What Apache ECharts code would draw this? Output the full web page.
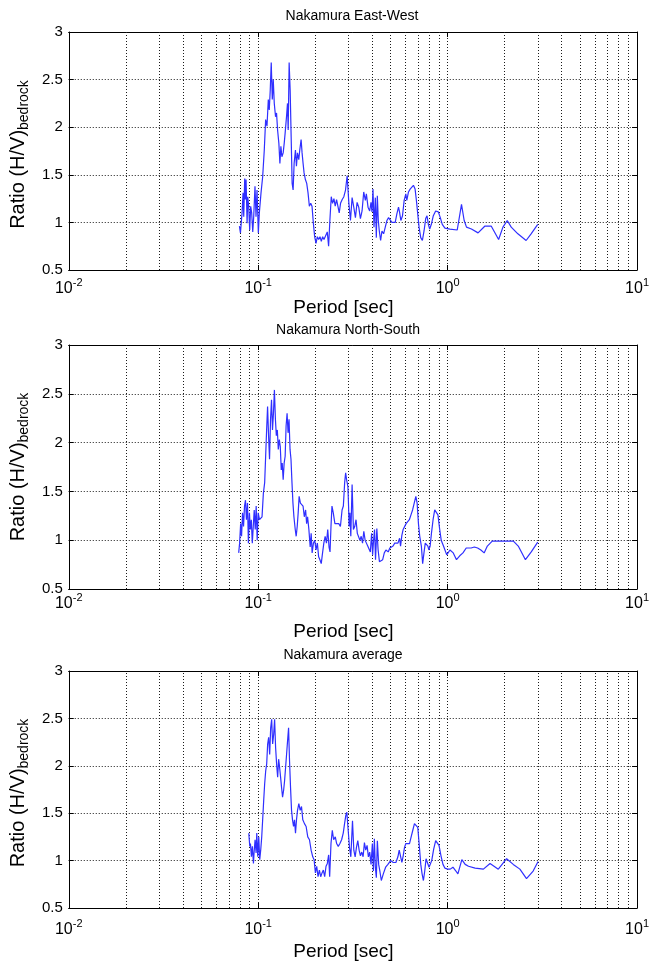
<!DOCTYPE html>
<html><head><meta charset="utf-8">
<script src="https://cdn.jsdelivr.net/npm/echarts@6/dist/echarts.min.js"></script>
<style>html,body{margin:0;padding:0;background:#fff}#chart{width:652px;height:962px}</style>
</head><body><div id="chart"></div>
<script>
const panelTitles = ['Nakamura East-West', 'Nakamura North-South', 'Nakamura average'];
const xAxisName = 'Period [sec]';
const yAxisNameMain = 'Ratio (H/V)';
const yAxisNameSub = 'bedrock';
const xRange = [0.01, 10];
const yRange = [0.5, 3];
const yStep = 0.5;
const minorPeriods = [0.02,0.03,0.04,0.05,0.06,0.07,0.08,0.09,0.2,0.3,0.4,0.5,0.6,0.7,0.8,0.9,2,3,4,5,6,7,8,9];

// [period (s), ratio]
const ewPoints = [
[0.0796,0.96],[0.0806,0.89],[0.0822,1.10],[0.0832,1.31],[0.0839,1.06],[0.0849,1.46],[0.0856,1.24],[0.0863,1.45],[0.0874,0.99],[0.0881,1.27],
[0.0891,1.17],[0.0902,0.92],[0.0913,1.17],[0.0924,1.10],[0.0936,0.90],[0.0947,1.06],[0.0962,1.38],[0.0974,1.06],[0.0986,1.34],[0.1002,0.89],
[0.1014,1.10],[0.1035,1.31],[0.1056,1.48],[0.1077,1.76],[0.1095,2.08],[0.1113,2.01],[0.1131,2.29],[0.1144,2.18],[0.1158,2.39],[0.1172,2.68],
[0.1187,2.29],[0.1201,2.50],[0.1216,2.25],[0.1235,2.11],[0.1250,2.15],[0.1266,1.97],[0.1286,1.83],[0.1302,1.62],[0.1318,1.80],[0.1334,1.69],
[0.1355,1.73],[0.1372,1.83],[0.1388,1.94],[0.1411,2.11],[0.1428,2.25],[0.1440,1.97],[0.1457,2.68],[0.1475,2.39],[0.1493,1.90],[0.1511,1.41],
[0.1529,1.34],[0.1548,1.62],[0.1573,1.76],[0.1592,1.59],[0.1612,1.73],[0.1638,1.66],[0.1658,1.76],[0.1685,1.87],[0.1705,1.73],[0.1726,1.62],
[0.1747,1.52],[0.1775,1.45],[0.1804,1.41],[0.1833,1.31],[0.1863,1.17],[0.1894,1.20],[0.1924,1.17],[0.1956,0.99],[0.1987,0.85],[0.2020,0.78],
[0.2052,0.85],[0.2086,0.82],[0.2120,0.85],[0.2154,0.80],[0.2189,0.85],[0.2225,0.82],[0.2270,0.84],[0.2316,0.90],[0.2354,0.75],[0.2392,1.03],
[0.2431,1.27],[0.2470,1.20],[0.2511,1.25],[0.2551,1.17],[0.2593,1.24],[0.2635,1.17],[0.2678,1.10],[0.2721,1.20],[0.2777,1.24],[0.2833,1.27],
[0.2891,1.34],[0.2949,1.49],[0.3009,1.21],[0.3070,1.02],[0.3132,1.26],[0.3196,1.16],[0.3261,1.05],[0.3328,1.21],[0.3395,1.16],[0.3465,1.04],
[0.3535,1.12],[0.3607,1.32],[0.3680,1.23],[0.3725,1.30],[0.3801,1.16],[0.3878,1.12],[0.3941,1.21],[0.3989,1.11],[0.4038,1.35],[0.4087,0.95],
[0.4153,1.26],[0.4204,0.84],[0.4255,1.28],[0.4306,1.02],[0.4359,0.91],[0.4430,0.81],[0.4502,0.91],[0.4593,0.88],[0.4687,0.95],[0.4782,1.02],
[0.4879,1.05],[0.4979,1.07],[0.5080,1.00],[0.5184,0.98],[0.5289,1.00],[0.5397,1.09],[0.5506,1.16],[0.5573,1.11],[0.5664,1.02],[0.5779,1.07],
[0.5896,1.23],[0.6017,1.30],[0.6090,1.23],[0.6214,1.32],[0.6340,1.35],[0.6469,1.37],[0.6600,1.39],[0.6735,1.35],[0.6844,1.23],[0.6955,1.09],
[0.7068,0.95],[0.7213,0.84],[0.7359,0.81],[0.7509,0.91],[0.7662,1.04],[0.7786,1.07],[0.7913,0.98],[0.8042,0.93],[0.8205,0.98],[0.8406,1.07],
[0.8647,1.12],[0.8930,1.11],[0.9148,1.05],[0.9372,0.98],[0.9679,0.94],[1.028,0.93],[1.124,0.92],[1.184,1.19],[1.223,1.02],[1.258,0.95],
[1.336,0.93],[1.448,0.89],[1.570,0.96],[1.701,0.96],[1.859,0.82],[1.959,0.95],[2.064,1.02],[2.167,0.95],[2.349,0.88],[2.597,0.81],
[2.759,0.88],[2.991,0.98]
];

const nsPoints = [
[0.0789,0.87],[0.0798,0.97],[0.0808,1.17],[0.0817,1.04],[0.0827,1.28],[0.0837,1.14],[0.0847,1.35],[0.0857,1.41],[0.0867,1.21],[0.0878,1.38],
[0.0888,0.97],[0.0899,1.28],[0.0909,1.11],[0.0920,1.21],[0.0931,0.97],[0.0942,1.14],[0.0953,1.31],[0.0965,1.11],[0.0976,1.35],[0.0988,1.00],
[0.1000,1.28],[0.1016,1.21],[0.1032,1.23],[0.1048,1.24],[0.1065,1.48],[0.1082,1.59],[0.1095,1.86],[0.1108,2.13],[0.1121,2.37],[0.1135,2.06],
[0.1148,1.83],[0.1162,2.24],[0.1176,2.44],[0.1190,2.13],[0.1204,2.30],[0.1218,2.54],[0.1233,2.24],[0.1247,2.07],[0.1262,2.13],[0.1277,1.93],
[0.1293,2.03],[0.1308,1.96],[0.1324,1.72],[0.1339,1.79],[0.1355,1.62],[0.1371,1.79],[0.1388,1.86],[0.1404,2.17],[0.1421,2.30],[0.1438,2.10],
[0.1455,2.24],[0.1473,1.93],[0.1490,1.83],[0.1508,1.59],[0.1526,1.38],[0.1544,1.24],[0.1569,1.11],[0.1587,1.04],[0.1607,1.14],[0.1626,1.28],
[0.1645,1.45],[0.1671,1.38],[0.1698,1.40],[0.1725,1.35],[0.1752,1.24],[0.1780,1.31],[0.1802,1.17],[0.1823,1.24],[0.1852,1.11],[0.1882,0.93],
[0.1904,1.07],[0.1927,0.87],[0.1957,0.97],[0.1989,1.00],[0.2020,0.90],[0.2053,0.97],[0.2085,0.83],[0.2118,0.80],[0.2152,0.76],[0.2187,0.87],
[0.2221,0.97],[0.2257,1.04],[0.2293,0.97],[0.2329,1.11],[0.2366,0.93],[0.2395,0.88],[0.2423,1.14],[0.2452,1.35],[0.2491,1.28],[0.2541,1.17],
[0.2602,1.16],[0.2664,1.17],[0.2717,1.14],[0.2772,1.31],[0.2816,1.35],[0.2861,1.59],[0.2895,1.69],[0.2929,1.62],[0.2976,1.55],[0.3000,1.35],
[0.3020,1.14],[0.3050,1.28],[0.3083,1.04],[0.3132,1.57],[0.3182,1.11],[0.3233,1.14],[0.3285,1.21],[0.3337,1.07],[0.3390,1.09],[0.3444,1.00],
[0.3499,1.04],[0.3555,0.97],[0.3611,1.09],[0.3669,1.00],[0.3727,0.97],[0.3787,0.94],[0.3847,0.92],[0.3909,0.88],[0.3971,1.07],[0.4018,0.85],
[0.4066,1.00],[0.4114,1.11],[0.4164,0.80],[0.4230,1.12],[0.4297,0.90],[0.4366,0.78],[0.4453,0.76],[0.4542,0.80],[0.4632,0.87],[0.4725,0.90],
[0.4857,0.88],[0.4954,0.92],[0.5053,0.94],[0.5154,0.94],[0.5257,0.97],[0.5361,0.99],[0.5469,0.97],[0.5578,1.02],[0.5644,0.94],[0.5734,1.05],
[0.5825,1.11],[0.5919,1.09],[0.6037,1.17],[0.6157,1.16],[0.6280,1.21],[0.6406,1.26],[0.6533,1.31],[0.6664,1.38],[0.6796,1.45],[0.6904,1.38],
[0.7015,1.17],[0.7127,1.04],[0.7269,0.94],[0.7384,0.76],[0.7502,0.87],[0.7622,0.97],[0.7744,0.95],[0.7867,0.94],[0.7960,0.90],[0.8087,0.94],
[0.8216,1.07],[0.8380,1.21],[0.8548,1.31],[0.8718,1.33],[0.8892,1.26],[0.9069,1.12],[0.9250,1.00],[0.9510,0.94],[0.9893,0.85],[1.029,0.90],
[1.071,0.87],[1.114,0.80],[1.159,0.84],[1.205,0.87],[1.254,0.92],[1.331,0.92],[1.384,0.93],[1.440,0.92],[1.498,0.90],[1.559,0.87],
[1.621,0.94],[1.720,0.99],[1.862,0.99],[2.015,0.99],[2.224,0.99],[2.360,0.94],[2.575,0.80],[2.764,0.88],[2.991,0.98]
];

const avgPoints = [
[0.0892,1.29],[0.0903,1.15],[0.0910,1.18],[0.0921,1.04],[0.0932,1.15],[0.0944,0.97],[0.0951,1.08],[0.0963,1.22],[0.0975,1.08],[0.0983,1.29],
[0.0995,1.04],[0.1007,1.25],[0.1019,1.01],[0.1031,1.11],[0.1044,1.25],[0.1056,1.43],[0.1069,1.63],[0.1082,1.81],[0.1096,1.95],[0.1109,2.02],
[0.1122,2.23],[0.1136,2.30],[0.1150,2.12],[0.1164,2.40],[0.1178,2.49],[0.1192,2.23],[0.1207,2.33],[0.1221,2.49],[0.1236,2.19],[0.1251,2.02],
[0.1267,1.88],[0.1282,2.07],[0.1298,1.98],[0.1313,1.88],[0.1329,1.77],[0.1345,1.67],[0.1362,1.74],[0.1378,1.84],[0.1395,1.98],[0.1412,2.12],
[0.1429,2.26],[0.1447,2.40],[0.1464,2.05],[0.1482,1.77],[0.1500,1.53],[0.1518,1.43],[0.1537,1.36],[0.1555,1.43],[0.1574,1.29],[0.1593,1.43],
[0.1613,1.53],[0.1639,1.60],[0.1666,1.53],[0.1693,1.57],[0.1720,1.43],[0.1755,1.39],[0.1791,1.36],[0.1827,1.25],[0.1865,1.22],[0.1903,1.11],
[0.1941,1.04],[0.1973,1.01],[0.2005,0.87],[0.2037,0.94],[0.2070,0.83],[0.2104,0.90],[0.2138,0.83],[0.2173,0.87],[0.2208,0.90],[0.2244,0.83],
[0.2281,0.94],[0.2318,0.97],[0.2355,1.06],[0.2384,0.83],[0.2423,1.18],[0.2462,1.32],[0.2502,1.22],[0.2553,1.25],[0.2595,1.18],[0.2647,1.15],
[0.2701,1.18],[0.2757,1.22],[0.2812,1.29],[0.2858,1.39],[0.2903,1.48],[0.2938,1.51],[0.2986,1.32],[0.3034,1.14],[0.3084,1.04],[0.3147,1.42],
[0.3198,1.11],[0.3250,1.04],[0.3302,1.14],[0.3356,1.21],[0.3411,1.11],[0.3466,1.05],[0.3522,1.09],[0.3580,1.04],[0.3638,1.19],[0.3697,1.11],
[0.3757,1.16],[0.3818,1.04],[0.3880,1.09],[0.3943,0.96],[0.4007,1.18],[0.4056,0.89],[0.4105,1.23],[0.4155,0.93],[0.4205,0.82],[0.4257,1.21],
[0.4326,0.96],[0.4396,0.88],[0.4467,0.79],[0.4577,0.86],[0.4707,0.93],[0.4842,0.96],[0.5001,1.00],[0.5165,0.98],[0.5334,0.98],[0.5465,1.04],
[0.5553,1.11],[0.5643,1.09],[0.5735,0.98],[0.5828,1.05],[0.5923,1.14],[0.6019,1.18],[0.6167,1.19],[0.6292,1.18],[0.6420,1.25],[0.6550,1.32],
[0.6684,1.39],[0.6847,1.39],[0.6958,1.35],[0.7072,1.18],[0.7216,0.96],[0.7333,0.86],[0.7452,0.79],[0.7573,0.89],[0.7696,1.02],[0.7821,0.98],
[0.7980,0.93],[0.8110,0.91],[0.8242,1.00],[0.8443,1.12],[0.8650,1.21],[0.8826,1.23],[0.9006,1.16],[0.9226,1.05],[0.9452,0.96],[0.9683,0.92],
[1.000,0.91],[1.033,0.91],[1.067,0.93],[1.106,0.89],[1.133,0.86],[1.189,1.01],[1.238,0.96],[1.289,0.94],[1.397,0.92],[1.545,0.91],
[1.675,0.97],[1.852,0.91],[2.049,1.02],[2.221,0.96],[2.407,0.91],[2.609,0.81],[2.828,0.89],[3.004,0.99]
];

const seriesPoints = [ewPoints, nsPoints, avgPoints];

const FONT = '"Liberation Sans", Arial, Helvetica, sans-serif';
const layout = [
  {left: 66.7, top: 32, width: 571.6, height: 238, titleX: 352, titleTop: 9, xLabelMargin: 7, xNameGap: 28, yNamePad: [0, 7, 0, 0]},
  {left: 62.5, top: 345, width: 582.5, height: 244, titleX: 348, titleTop: 323, xLabelMargin: 3, xNameGap: 33, yNamePad: [0, 0, 0, 0]},
  {left: 68, top: 671, width: 571.6, height: 237.3, titleX: 343, titleTop: 648, xLabelMargin: 10, xNameGap: 34, yNamePad: [0, 7, 0, 0]}
];

const gridDots = {color: '#1a1a1a', width: 1, type: [1, 2]};
const black = {color: '#000', width: 1};

const option = {
  animation: false,
  backgroundColor: '#fff',
  title: [], grid: [], xAxis: [], yAxis: [], series: []
};

layout.forEach((L, i) => {
  option.title.push({
    text: panelTitles[i], left: L.titleX, top: L.titleTop, textAlign: 'center', padding: 0,
    textStyle: {fontFamily: FONT, fontSize: 14, fontWeight: 'normal', color: '#000'}
  });
  option.grid.push({left: L.left, top: L.top, width: L.width, height: L.height, containLabel: false});
  option.xAxis.push({
    gridIndex: i, type: 'log', logBase: 10, min: xRange[0], max: xRange[1], position: 'bottom',
    axisLine: {show: true, onZero: false, lineStyle: black},
    axisTick: {show: true, inside: true, length: 5, lineStyle: black},
    splitLine: {show: true, lineStyle: gridDots},
    axisLabel: {
      show: true, margin: L.xLabelMargin, showMinLabel: true, showMaxLabel: true,
      formatter: v => '{b|10}{s|' + Math.round(Math.log10(v)) + '}',
      rich: {
        b: {fontFamily: FONT, fontSize: 16, color: '#000', lineHeight: 18, padding: [6, 0, 0, 0]},
        s: {fontFamily: FONT, fontSize: 11, color: '#000', lineHeight: 12, verticalAlign: 'top'}
      }
    },
    name: xAxisName, nameLocation: 'middle', nameGap: L.xNameGap,
    nameTextStyle: {fontFamily: FONT, fontSize: 19, color: '#000', padding: [0, 19, 0, 0]}
  });
  option.xAxis.push({
    gridIndex: i, type: 'log', logBase: 10, min: xRange[0], max: xRange[1], position: 'top',
    axisLine: {show: true, onZero: false, lineStyle: black},
    axisTick: {show: true, inside: true, length: 5, lineStyle: black},
    axisLabel: {show: false}, splitLine: {show: false}
  });
  option.yAxis.push({
    gridIndex: i, type: 'value', min: yRange[0], max: yRange[1], interval: yStep, position: 'left',
    axisLine: {show: true, onZero: false, lineStyle: black},
    axisTick: {show: true, inside: true, length: 5, lineStyle: black},
    splitLine: {show: true, lineStyle: gridDots},
    axisLabel: {fontFamily: FONT, fontSize: 15, color: '#000', margin: 6},
    name: '{a|' + yAxisNameMain + '}{b|' + yAxisNameSub + '}',
    nameLocation: 'middle', nameGap: 34, nameRotate: 90,
    nameTextStyle: {
      padding: L.yNamePad,
      rich: {
        a: {fontFamily: FONT, fontSize: 20, color: '#000', lineHeight: 22, verticalAlign: 'top'},
        b: {fontFamily: FONT, fontSize: 14, color: '#000', lineHeight: 16, verticalAlign: 'top', padding: [9, 0, 0, 0]}
      }
    }
  });
  option.yAxis.push({
    gridIndex: i, type: 'value', min: yRange[0], max: yRange[1], interval: yStep, position: 'right',
    axisLine: {show: true, onZero: false, lineStyle: black},
    axisTick: {show: true, inside: true, length: 5, lineStyle: black},
    axisLabel: {show: false}, splitLine: {show: false}
  });
  option.series.push({
    type: 'line', xAxisIndex: i * 2, yAxisIndex: i * 2,
    data: seriesPoints[i], showSymbol: false, symbol: 'none',
    lineStyle: {color: '#2f2fff', width: 1.2}, itemStyle: {color: '#2f2fff'},
    z: 3,
    markLine: {
      silent: true, symbol: 'none', z: 1, animation: false,
      label: {show: false},
      lineStyle: gridDots,
      emphasis: {disabled: true},
      data: minorPeriods.map(p => ({xAxis: p}))
    }
  });
});

const chart = echarts.init(document.getElementById('chart'), null, {renderer: 'canvas'});
chart.setOption(option);
</script>
</body></html>
